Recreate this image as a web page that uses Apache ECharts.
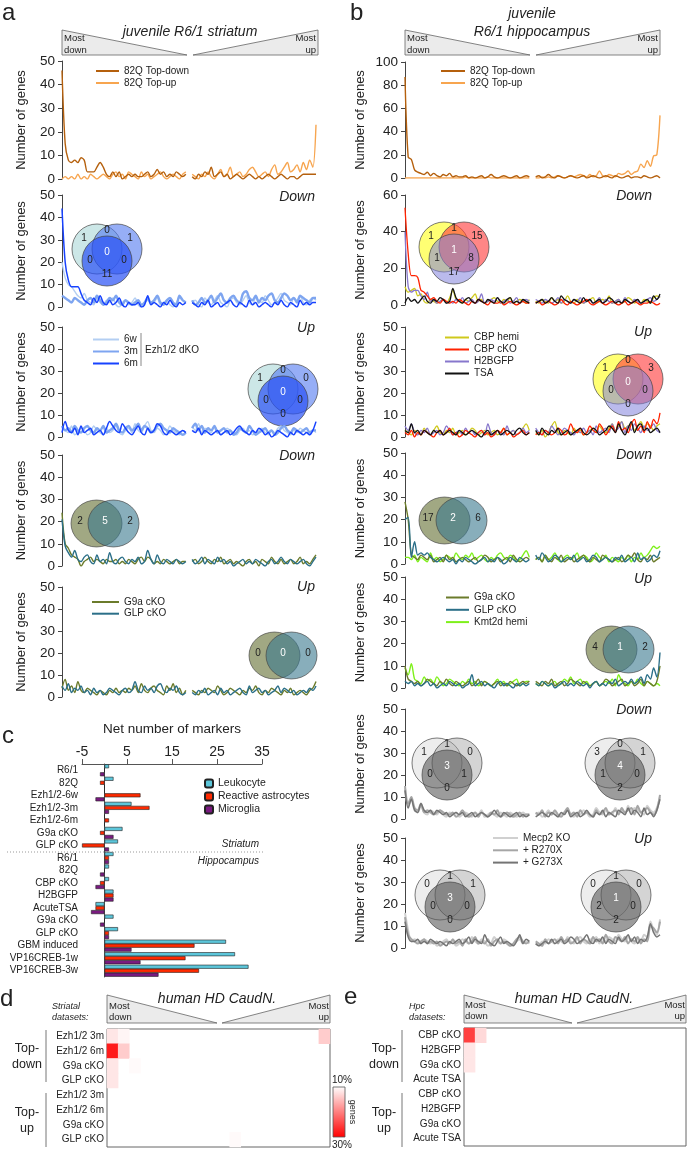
<!DOCTYPE html>
<html><head><meta charset="utf-8">
<script src="https://cdn.jsdelivr.net/npm/echarts@6/dist/echarts.min.js"></script>
<style>html,body{margin:0;padding:0;background:#fff}#c{width:688px;height:1150px}</style>
</head><body><div id="c"></div><script>
const FONT = 'Liberation Sans';
// ---------- x bins (rank bins, left half = most down, right half = most up) ----------
const rankBins = Array.from({length: 81}, (_, i) => String(i));

// ---------- panel a : juvenile R6/1 striatum ----------
const a1DownL = [46,15,8,7,8,7,9,8,3,3, 3,5,7,5,2,1,3,1,3,0, 1,2,1,2,1,1,2,3,1,2, 4,2,3,1,2,1,3,2,1,2];
const a1DownR = [1,0,2,1,3,2,5,1,2,3, 1,2,0,1,2,1,0,1,2,1, 0,1,0,1,2,1,0,1,2,1, 0,1,1,0,1,2,2,2,2,2];
const a1UpL   = [0,1,0,1,0,2,0,1,0,2, 1,0,1,2,1,0,2,3,1,2, 0,3,2,1,0,3,1,2,0,1, 2,3,1,0,1,2,1,0,2,3];
const a1UpR   = [2,1,0,2,1,3,1,0,2,4, 1,2,5,1,2,3,1,2,4,5, 3,1,2,3,1,4,6,2,3,5, 7,3,4,6,3,7,4,8,5,23];

const a2w6L = [20,13,10,9,7,5,4,6,3,2, 1,4,2,1,3,2,4,1,0,2, 3,1,2,4,1,0,2,3,1,2, 4,1,2,3,1,0,2,4,3,2];
const a2m3L = [5,4,3,2,4,3,2,1,3,4, 2,5,3,1,2,4,3,5,2,1, 3,2,1,2,3,1,2,4,2,3, 5,2,1,3,4,2,1,5,3,2];
const a2m6L = [44,20,12,9,9,9,6,3,2,1, 4,2,5,2,1,3,1,2,4,1, 0,2,1,1,2,0,1,5,1,2, 1,0,2,1,3,1,0,2,1,2];
const a2w6R = [2,3,1,0,4,2,1,3,5,2, 1,0,3,4,2,1,3,5,2,1, 4,3,2,5,3,1,2,4,6,3, 2,1,4,3,5,2,1,3,4,3];
const a2m3R = [3,1,2,4,2,3,5,2,4,6, 3,2,4,5,3,2,6,7,4,3, 5,2,4,3,5,6,3,2,4,6, 5,3,4,2,5,4,3,2,4,4];
const a2m6R = [2,1,0,2,1,3,0,1,2,0, 1,2,3,1,0,2,1,0,3,1, 2,0,1,2,1,0,2,1,3,1, 0,2,1,0,3,1,2,1,2,2];

const a3w6L = [4,3,2,5,1,2,4,3,1,2, 5,3,2,1,4,2,3,5,2,1, 3,4,2,6,3,2,5,7,3,2, 4,3,1,2,5,3,2,1,3,2];
const a3m3L = [5,3,4,2,5,3,2,4,5,3, 2,4,3,5,2,3,4,6,3,2, 4,5,3,4,6,3,5,4,2,3, 5,6,4,3,2,4,3,2,1,2];
const a3m6L = [2,7,3,2,4,1,5,2,3,4, 1,2,3,1,4,7,5,3,2,6, 4,2,1,3,5,2,1,4,2,3, 6,5,2,1,3,2,1,2,3,2];
const a3w6R = [5,3,6,2,4,3,2,5,3,1, 2,4,3,2,1,3,4,2,3,1, 2,3,4,2,1,3,2,4,5,3, 2,1,3,2,4,3,2,1,3,2];
const a3m3R = [4,6,3,5,2,4,3,5,2,3, 4,2,3,1,2,4,3,2,5,3, 1,2,3,4,2,3,1,2,4,5, 3,2,4,3,2,3,4,2,3,3];
const a3m6R = [3,2,4,1,3,2,1,2,3,1, 2,3,1,2,4,5,3,2,1,3, 2,4,3,1,2,0,1,3,2,1, 0,2,1,3,2,1,2,1,3,7];

const a4g9aL = [24,10,8,5,4,3,0,2,3,4, 2,3,2,1,3,2,2,3,1,2, 1,3,2,1,3,4,2,4,3,1, 2,1,3,2,1,2,3,1,2,2];
const a4glpL = [21,9,6,4,7,3,2,4,5,2, 1,5,2,3,1,6,2,1,3,4, 2,1,3,2,4,1,2,7,3,1, 5,2,1,3,2,1,3,2,1,2];
const a4g9aR = [2,3,1,2,4,2,1,3,2,4, 1,2,3,1,2,1,0,2,3,1, 2,0,3,2,1,4,2,1,3,1, 2,3,1,2,4,1,2,1,3,5];
const a4glpR = [3,1,2,4,1,3,2,1,4,2, 3,1,2,0,1,2,3,1,2,1, 3,2,1,0,2,3,1,2,4,2, 1,3,2,1,2,3,1,0,2,4];

const a5g9aL = [4,8,3,5,2,7,3,2,4,3, 2,1,3,2,1,3,2,4,2,3, 2,4,3,5,2,6,3,2,4,5, 3,2,1,5,3,6,2,4,1,3];
const a5glpL = [5,3,6,2,4,3,5,2,3,1, 4,2,3,1,2,4,3,2,1,3, 4,2,3,7,3,2,5,3,4,2, 5,6,3,2,4,3,5,2,1,2];
const a5g9aR = [3,2,1,3,2,4,3,2,5,3, 1,2,4,3,2,1,3,2,4,3, 5,2,1,3,2,4,3,2,1,3, 2,4,1,2,3,2,1,3,4,7];
const a5glpR = [2,1,3,2,4,1,2,3,1,4, 2,3,1,2,3,4,2,1,5,2, 3,4,2,3,1,2,3,5,2,4, 3,2,3,1,2,3,2,4,3,5];

// ---------- panel b : juvenile R6/1 hippocampus ----------
const b1DownL = [87,18,16,7,5,4,3,5,2,4, 2,1,3,2,4,1,2,1,1,2, 0,1,0,1,2,0,1,3,1,0, 1,2,1,0,1,2,0,1,2,1];
const b1DownR = [1,2,0,1,3,1,0,2,1,0, 1,2,1,0,1,2,0,1,2,1, 0,1,2,1,0,2,1,0,1,2, 0,1,1,0,2,1,0,1,2,0];
const b1UpL   = [0,0,0,0,0,0,0,0,0,0, 0,0,0,0,0,0,0,0,0,1, 0,0,0,0,0,0,1,0,0,0, 0,0,0,0,0,0,0,0,0,0];
const b1UpR   = [0,0,1,0,1,0,1,2,1,0, 1,2,1,2,3,2,1,3,1,2, 6,2,1,3,2,1,4,3,4,6, 3,5,6,12,9,15,10,19,20,54];

const b2hemiL = [10,7,8,9,5,6,2,1,3,2, 1,2,3,1,4,8,3,2,1,3, 2,4,6,2,3,1,2,3,4,2, 1,3,2,4,1,2,3,2,1,3];
const b2ckoL  = [53,28,16,16,15,8,7,5,3,4, 2,1,3,2,1,2,1,3,2,1, 0,2,1,3,2,1,0,2,1,1, 2,0,1,2,1,0,1,2,1,1];
const b2h2bL  = [40,10,7,8,8,5,3,7,2,3, 1,2,3,1,2,1,3,2,4,1, 2,3,1,2,6,1,2,3,2,4, 1,2,3,1,2,4,1,2,3,2];
const b2tsaL  = [1,4,2,3,1,3,5,2,1,3, 2,4,3,1,2,9,4,2,1,3, 4,2,1,3,2,1,3,2,1,4, 2,1,3,4,1,2,1,3,2,1];
const b2hemiR = [2,1,3,2,1,4,2,3,1,2, 5,2,1,3,2,1,2,3,4,1, 2,3,2,5,1,2,3,1,2,4, 3,1,2,1,3,2,1,4,5,4];
const b2ckoR  = [1,2,0,1,2,1,0,1,3,1, 0,2,1,0,1,2,3,1,0,1, 2,1,0,1,2,1,0,1,2,0, 1,2,1,0,1,1,2,1,0,1];
const b2h2bR  = [3,2,1,3,2,1,2,4,1,3, 2,1,3,2,4,1,2,3,1,2, 4,1,3,2,1,2,3,1,4,2, 1,3,2,1,2,3,4,2,3,5];
const b2tsaR  = [1,2,3,1,2,4,2,1,5,3, 2,1,3,2,1,4,2,3,1,2, 3,1,2,4,3,1,2,1,3,2, 1,2,3,1,2,3,1,5,3,6];

const b3hemiL = [3,2,1,3,2,1,4,2,1,3, 5,2,1,3,2,4,1,2,3,1, 2,4,3,1,2,3,1,2,3,1, 2,4,1,2,3,1,2,4,6,3];
const b3ckoL  = [2,1,3,0,2,1,3,2,1,0, 2,3,1,2,4,1,2,0,1,3, 2,1,0,2,3,1,2,0,1,3, 2,4,1,2,0,1,2,3,1,2];
const b3h2bL  = [5,3,6,2,1,3,2,4,1,2, 3,1,2,5,3,1,2,3,1,4, 2,3,1,2,3,1,6,2,1,3, 2,1,5,2,3,1,2,4,2,3];
const b3tsaL  = [3,2,6,2,3,1,3,2,1,3, 2,3,1,2,3,2,1,3,2,1, 2,3,2,1,0,2,3,1,2,3, 1,2,3,2,1,3,4,2,1,2];
const b3hemiR = [2,1,3,0,2,5,7,2,1,3, 2,1,4,2,3,1,2,3,4,2, 5,3,2,4,6,3,5,7,4,5, 6,3,5,7,4,6,5,3,5,6];
const b3ckoR  = [1,2,1,3,2,1,2,4,3,1, 2,6,3,2,4,1,2,5,3,2, 6,4,1,3,5,2,7,3,4,2, 6,8,3,5,2,7,4,8,6,11];
const b3h2bR  = [4,2,1,3,2,5,3,1,2,4, 3,2,1,3,2,4,2,3,1,5, 2,3,4,2,6,3,4,7,2,5, 3,6,4,2,5,3,4,6,3,2];
const b3tsaR  = [3,1,4,2,1,3,2,4,1,2, 3,1,2,3,4,2,1,2,4,3, 1,2,3,5,4,2,6,3,1,4, 7,2,5,6,3,4,2,3,4,2];

const b4g9aL = [28,20,4,3,2,4,3,2,4,1, 2,3,1,4,2,3,1,2,3,2, 1,2,3,1,2,4,3,1,2,3, 1,2,3,1,4,2,1,2,3,2];
const b4glpL = [20,21,3,10,4,5,4,5,3,2, 1,2,3,2,1,2,0,2,1,3, 2,1,0,1,2,3,1,2,1,3, 2,0,1,3,2,1,3,2,1,2];
const b4kmtL = [3,3,2,4,1,3,2,1,5,2, 3,1,2,4,3,2,5,3,2,4, 3,5,2,3,4,2,1,3,2,4, 5,3,2,4,3,1,2,4,6,3];
const b4g9aR = [2,3,1,4,2,1,3,2,4,1, 2,3,1,2,3,4,2,1,3,2, 1,4,3,2,1,2,3,1,2,4, 3,5,2,1,3,2,4,1,2,3];
const b4glpR = [4,2,5,3,1,2,4,3,1,2, 3,2,4,1,2,3,1,2,4,3, 1,2,3,2,1,3,2,4,1,2, 3,1,5,2,3,1,2,4,3,6];
const b4kmtR = [2,3,1,4,2,3,5,2,1,3, 4,2,3,5,2,4,3,1,2,5, 3,2,4,1,3,2,1,3,2,4, 1,3,2,5,3,4,6,8,7,8];

const b5g9aL = [10,4,3,2,3,1,2,4,3,2, 1,3,2,4,2,1,3,2,1,2, 3,1,2,4,1,3,2,1,2,3, 1,2,1,3,2,1,2,3,2,3];
const b5glpL = [3,2,3,1,2,1,2,3,1,2, 0,1,2,1,3,2,1,2,0,1, 2,6,1,2,3,1,2,1,0,2, 3,1,2,1,0,2,1,2,1,2];
const b5kmtL = [9,6,11,4,3,2,5,3,4,2, 5,3,1,2,4,3,2,1,3,2, 4,2,3,1,2,3,2,1,2,4, 2,3,1,2,3,4,1,2,3,3];
const b5g9aR = [3,2,1,3,2,4,1,2,3,1, 2,4,3,2,1,3,2,1,2,3, 1,2,4,3,1,2,3,4,1,2, 3,1,2,4,1,3,2,1,3,10];
const b5glpR = [2,1,3,2,1,2,0,1,2,3, 1,2,1,3,2,1,2,0,2,3, 1,2,1,3,2,4,1,2,3,2, 4,2,3,5,2,6,4,9,5,16];
const b5kmtR = [2,1,3,2,1,2,3,1,2,4, 3,5,2,3,4,2,3,1,2,3, 1,2,3,2,4,1,6,3,2,1, 3,2,4,2,1,3,2,1,2,1];

const b6koL  = [14,6,9,4,3,6,3,2,4,3, 2,4,2,1,3,2,3,1,2,3, 2,1,3,2,4,1,2,3,2,1, 3,2,1,3,2,1,2,3,2,2];
const b6r270L= [15,7,10,5,4,7,3,4,3,2, 3,4,3,2,2,3,1,2,4,2, 1,2,3,1,3,2,1,3,2,4, 1,2,3,2,1,2,3,1,2,2];
const b6g273L= [13,5,9,4,3,7,4,3,4,2, 4,3,2,3,1,2,3,2,3,1, 2,3,1,2,3,2,1,2,4,2, 1,3,2,1,2,3,1,2,1,2];
const b6koR  = [2,3,1,2,4,2,3,1,2,3, 4,2,1,3,2,4,3,1,2,5, 3,2,4,3,2,5,3,4,2,6, 3,5,4,3,2,6,4,3,5,10];
const b6r270R= [3,2,4,1,3,2,4,2,1,3, 5,2,3,1,4,2,3,2,1,4, 2,3,5,2,3,4,2,5,3,4, 5,2,6,3,4,5,3,2,4,11];
const b6g273R= [1,2,3,2,1,3,2,1,3,2, 4,1,2,3,1,2,4,2,1,3, 2,4,1,3,2,1,4,3,2,5, 2,4,3,1,5,2,3,1,4,9];

const b7koL  = [16,8,3,4,3,2,4,3,2,3, 1,2,3,4,2,3,1,2,4,3, 2,5,3,2,4,3,1,2,5,3, 2,4,3,1,2,3,4,2,3,2];
const b7r270L= [14,6,4,3,2,3,4,2,3,2, 3,1,2,3,2,4,2,3,1,4, 2,3,5,2,3,2,4,1,3,4, 2,3,2,1,2,4,5,3,2,3];
const b7g273L= [12,5,3,3,4,2,3,2,4,3, 2,3,2,1,3,2,3,4,2,3, 5,2,4,3,2,6,3,2,1,3, 5,2,3,2,1,3,6,2,4,3];
const b7koR  = [2,1,3,2,4,3,2,4,3,2, 5,3,2,4,5,3,2,4,3,5, 2,4,3,5,4,3,6,4,3,5, 3,2,4,3,6,5,12,8,6,13];
const b7r270R= [3,2,1,4,2,3,4,2,5,3, 4,2,3,5,2,4,3,2,5,3, 4,2,6,3,2,5,4,3,5,2, 4,3,5,2,4,3,10,9,7,12];
const b7g273R= [2,1,2,3,2,4,2,3,4,2, 3,5,4,2,3,4,6,3,2,4, 3,5,2,4,3,2,5,3,4,6, 3,5,2,4,3,5,11,7,5,6];

// ---------- panel c : net number of markers ----------
const cLabels = ['R6/1','82Q','Ezh1/2-6w','Ezh1/2-3m','Ezh1/2-6m','G9a cKO','GLP cKO','R6/1','82Q','CBP cKO','H2BGFP','AcuteTSA','G9a cKO','GLP cKO','GBM induced','VP16CREB-1w','VP16CREB-3w'];
const cLeukocyte = [1,2,0,6,0,4,3, 2,1,1,2,-2,2,3,27,29,32];
const cReactive  = [0,-1,8,10,1,-1,-5, 1,0,-1,2,-2,0,1,20,18,21];
const cMicroglia = [-1,0,-2,1,0,2,1, 1,-1,-2,2,-3,-1,1,6,8,12];
const cTicks = [-5,5,15,25,35];

// ---------- panels d, e : human HD caudate overlap heatmaps ----------
const hmCols = Array.from({length: 20}, (_, i) => String(i));
const dRows = ['Ezh1/2 3m','Ezh1/2 6m','G9a cKO','GLP cKO','Ezh1/2 3m','Ezh1/2 6m','G9a cKO','GLP cKO'];
const eRows = ['CBP cKO','H2BGFP','G9a cKO','Acute TSA','CBP cKO','H2BGFP','G9a cKO','Acute TSA'];
// [column, row, % genes]
const dCells = [[0,0,12],[1,0,10.8],[19,0,14],[0,1,28],[1,1,14],[0,2,12],[2,2,10.4],[0,3,12],[11,7,10.4]];
const eCells = [[0,0,25],[1,0,13],[0,1,12],[0,2,12]];

// ---------- venn counts [A, AB, B, ABC, AC, BC, C] / [A, AB, B] ----------
const vennA2 = [1,0,1,0,0,0,11], vennA3 = [1,0,0,0,0,0,0];
const vennA4 = [2,5,2], vennA5 = [0,0,0];
const vennB2 = [1,1,15,1,1,8,17], vennB3 = [1,0,3,0,0,0,0];
const vennB4 = [17,2,6], vennB5 = [4,1,2];
const vennB6L = [1,1,0,3,0,1,0], vennB6R = [3,0,1,4,1,0,2];
const vennB7L = [0,1,1,3,0,0,0], vennB7R = [0,1,0,1,2,0,2];

// =========================================================
const C = {
  td:'#b5600d', tu:'#f7a54f', w6:'#b3cef2', m3:'#7ea5f0', m6:'#1742ff',
  g9a:'#6b7b2b', glp:'#2b6f88', hemi:'#cfc91c', cko:'#ff2200', h2b:'#8777cc', tsa:'#111111',
  kmt:'#7ef01a', ko:'#d0d0d0', r270:'#a6a6a6', g273:'#747474'
};
const grids = [], xAxes = [], yAxes = [], series = [], graphics = [], legends = [];
const join = (L, R) => L.concat([null], R);

function linePlot(left, width, top, h, max, interval, gap, list) {
  const gi = grids.length;
  grids.push({left, top, width, height: h, containLabel: false, outerBoundsMode: 'none'});
  xAxes.push({type:'category', gridIndex: gi, data: rankBins, boundaryGap: false, show: false});
  yAxes.push({type:'value', gridIndex: gi, min: 0, max, interval,
    name: 'Number of genes', nameLocation: 'middle', nameGap: gap,
    nameTextStyle: {fontSize: 13, color: '#222', fontFamily: FONT},
    axisLine: {show: true, lineStyle: {color: '#444', width: 1}},
    axisTick: {show: true, length: 4, lineStyle: {color: '#444'}},
    axisLabel: {fontSize: 13.5, color: '#222', margin: 7, fontFamily: FONT},
    splitLine: {show: false}});
  list.forEach(s => series.push({type: 'line', name: s[0], xAxisIndex: gi, yAxisIndex: gi,
    data: join(s[1], s[2]), symbol: 'none', smooth: 0.3, connectNulls: false,
    lineStyle: {color: s[3], width: s[4]}, itemStyle: {color: s[3]}, z: 3}));
}
const LA = 62, WA = 254, LB = 405, WB = 255;
linePlot(LA, WA, 61, 118, 50, 10, 34, [['82Q Top-up', a1UpL, a1UpR, C.tu, 1.4], ['82Q Top-down', a1DownL, a1DownR, C.td, 1.4]]);
linePlot(LA, WA, 195, 112, 50, 10, 34, [['6w', a2w6L, a2w6R, C.w6, 1.4], ['3m', a2m3L, a2m3R, C.m3, 2.4], ['6m', a2m6L, a2m6R, C.m6, 1.5]]);
linePlot(LA, WA, 327, 110, 50, 10, 34, [['6w', a3w6L, a3w6R, C.w6, 1.4], ['3m', a3m3L, a3m3R, C.m3, 2.4], ['6m', a3m6L, a3m6R, C.m6, 1.5]]);
linePlot(LA, WA, 455, 111, 50, 10, 34, [['G9a cKO', a4g9aL, a4g9aR, C.g9a, 1.4], ['GLP cKO', a4glpL, a4glpR, C.glp, 1.4]]);
linePlot(LA, WA, 587, 110, 50, 10, 34, [['G9a cKO', a5g9aL, a5g9aR, C.g9a, 1.4], ['GLP cKO', a5glpL, a5glpR, C.glp, 1.4]]);

linePlot(LB, WB, 62, 116, 100, 20, 38, [['82Q Top-up', b1UpL, b1UpR, C.tu, 1.4], ['82Q Top-down', b1DownL, b1DownR, C.td, 1.4]]);
linePlot(LB, WB, 195, 110, 60, 20, 38, [['CBP hemi', b2hemiL, b2hemiR, C.hemi, 1.3], ['H2BGFP', b2h2bL, b2h2bR, C.h2b, 1.3], ['CBP cKO', b2ckoL, b2ckoR, C.cko, 1.3], ['TSA', b2tsaL, b2tsaR, C.tsa, 1.3]]);
linePlot(LB, WB, 327, 110, 50, 10, 38, [['CBP hemi', b3hemiL, b3hemiR, C.hemi, 1.3], ['H2BGFP', b3h2bL, b3h2bR, C.h2b, 1.3], ['CBP cKO', b3ckoL, b3ckoR, C.cko, 1.3], ['TSA', b3tsaL, b3tsaR, C.tsa, 1.3]]);
linePlot(LB, WB, 453, 111, 50, 10, 38, [['Kmt2d hemi', b4kmtL, b4kmtR, C.kmt, 1.4], ['G9a cKO', b4g9aL, b4g9aR, C.g9a, 1.4], ['GLP cKO', b4glpL, b4glpR, C.glp, 1.4]]);
linePlot(LB, WB, 577, 111, 50, 10, 38, [['Kmt2d hemi', b5kmtL, b5kmtR, C.kmt, 1.4], ['G9a cKO', b5g9aL, b5g9aR, C.g9a, 1.4], ['GLP cKO', b5glpL, b5glpR, C.glp, 1.4]]);
linePlot(LB, WB, 709, 110, 50, 10, 38, [['Mecp2 KO', b6koL, b6koR, C.ko, 2], ['+ R270X', b6r270L, b6r270R, C.r270, 2], ['+ G273X', b6g273L, b6g273R, C.g273, 1.5]]);
linePlot(LB, WB, 838, 110, 50, 10, 38, [['Mecp2 KO', b7koL, b7koR, C.ko, 2], ['+ R270X', b7r270L, b7r270R, C.r270, 2], ['+ G273X', b7g273L, b7g273R, C.g273, 1.5]]);

// ---- panel c bars ----
{
  const gi = grids.length;
  grids.push({left: 82, top: 764, width: 180, height: 213, containLabel: false, outerBoundsMode: 'none'});
  xAxes.push({type: 'value', gridIndex: gi, position: 'top', min: cTicks[0], max: cTicks[cTicks.length-1], interval: 10,
    name: 'Net number of markers', nameLocation: 'middle', nameGap: 28,
    nameTextStyle: {fontSize: 13.5, color: '#222', fontFamily: FONT},
    axisLine: {show: true, lineStyle: {color: '#555'}}, axisTick: {show: true, length: 5, lineStyle: {color: '#555'}},
    axisLabel: {fontSize: 14, color: '#222', margin: 5, fontFamily: FONT}, splitLine: {show: false}});
  yAxes.push({type: 'category', gridIndex: gi, inverse: true, data: cLabels.map((_, i) => String(i)),
    axisLine: {show: true, onZero: true, lineStyle: {color: '#555'}}, axisTick: {show: false},
    axisLabel: {interval: 0, formatter: (v, i) => cLabels[i], fontSize: 10, color: '#222', margin: 4, fontFamily: FONT}});
  [['Leukocyte', cLeukocyte, '#5cc6da'], ['Reactive astrocytes', cReactive, '#ff2a00'], ['Microglia', cMicroglia, '#7a1a80']].forEach(s =>
    series.push({type: 'bar', name: s[0], xAxisIndex: gi, yAxisIndex: gi, data: s[1], barWidth: 4, barGap: '0%',
      itemStyle: {color: s[2], borderColor: '#222', borderWidth: 0.6}}));
}
// ---- heatmaps d, e ----
const hmIdx = [];
function heat(left, top, width, height, rows, cells) {
  const gi = grids.length;
  grids.push({left, top, width, height, show: true, borderColor: '#666', borderWidth: 1, backgroundColor: 'transparent', containLabel: false, outerBoundsMode: 'none'});
  xAxes.push({type: 'category', gridIndex: gi, data: hmCols, show: false});
  yAxes.push({type: 'category', gridIndex: gi, inverse: true, data: rows.map((_, i) => String(i)),
    axisLine: {show: false}, axisTick: {show: false},
    axisLabel: {interval: 0, formatter: (v, i) => rows[i], fontSize: 10, color: '#222', margin: 3, fontFamily: FONT}});
  hmIdx.push(series.length);
  series.push({type: 'heatmap', xAxisIndex: gi, yAxisIndex: gi, data: cells, itemStyle: {borderWidth: 0}, emphasis: {disabled: true}});
}
heat(107, 1029, 223, 118, dRows, dCells);
heat(464, 1028, 222, 118, eRows, eCells);

// ---- legends ----
const lg = (left, top, data, iw, ih, gap, extra) => Object.assign({left, top, orient: 'vertical', padding: 0, itemWidth: iw, itemHeight: ih, itemGap: gap,
  selectedMode: false, data, itemStyle: {opacity: 0}, textStyle: {fontSize: 10, color: '#222', fontFamily: FONT}}, extra || {});
legends.push(lg(95, 66, ['82Q Top-down', '82Q Top-up'], 23, 10, 2));
legends.push(lg(440, 66, ['82Q Top-down', '82Q Top-up'], 24, 10, 2));
legends.push(lg(92, 334.5, ['6w', '3m', '6m'], 26, 9, 2));
legends.push(lg(91, 597, ['G9a cKO', 'GLP cKO'], 27, 10, 1.7));
legends.push(lg(444, 332.5, ['CBP hemi', 'CBP cKO', 'H2BGFP', 'TSA'], 24, 9, 2));
legends.push(lg(445, 592.5, ['G9a cKO', 'GLP cKO', 'Kmt2d hemi'], 23, 9, 2.3));
legends.push(lg(492, 833, ['Mecp2 KO', '+ R270X', '+ G273X'], 25, 9, 2.3));
legends.push(lg(204, 778, ['Leukocyte', 'Reactive astrocytes', 'Microglia'], 8, 8, 2, {itemStyle: {}, textStyle: {fontSize: 10.5, color: '#222', fontFamily: FONT}}));

// ---- graphics ----
function T(x, y, text, o) {
  o = o || {};
  return {type: 'text', x, y, rotation: o.rot || 0, silent: true, z: 10,
    style: {text, fill: o.fill || '#222', fontSize: o.size || 10, fontFamily: FONT, fontStyle: o.it ? 'italic' : 'normal',
      textAlign: o.align || 'left', textVerticalAlign: o.va || 'middle', align: o.align || 'left', verticalAlign: o.va || 'middle'}};
}
const P = (pts) => ({type: 'polygon', silent: true, z: 5, shape: {points: pts}, style: {fill: '#ebebeb', stroke: '#666', lineWidth: 0.8}});
const Ln = (x1, y1, x2, y2, st) => ({type: 'line', silent: true, z: 5, shape: {x1, y1, x2, y2}, style: Object.assign({stroke: '#666', lineWidth: 1}, st || {})});

// panel letters
graphics.push(T(2, 25, 'a', {size: 24, va: 'bottom'}), T(350, 25, 'b', {size: 24, va: 'bottom'}),
  T(2, 748, 'c', {size: 24, va: 'bottom'}), T(0, 1011, 'd', {size: 24, va: 'bottom'}), T(344, 1009, 'e', {size: 24, va: 'bottom'}));
// rank triangles + titles
function header(x0, xm1, xm2, x1, yT, yB, ml, mr, yM, yD) {
  graphics.push(P([[x0, yT], [x0, yB], [xm1, yB]]), P([[xm2, yB], [x1, yT], [x1, yB]]));
  graphics.push(T(ml, yM, 'Most', {size: 9.5}), T(ml, yD, 'down', {size: 9.5}),
    T(mr, yM, 'Most', {size: 9.5, align: 'right'}), T(mr, yD, 'up', {size: 9.5, align: 'right'}));
}
header(62, 187, 193, 318, 30, 55, 64, 316, 38, 50);
header(405, 530, 536, 660, 30, 55, 407, 658, 38, 50);
header(107, 217, 222, 330, 995, 1023, 109, 329, 1006, 1017);
header(464, 572, 577, 686, 995, 1023, 465, 685, 1005, 1016);
graphics.push(T(190, 32, 'juvenile R6/1 striatum', {size: 14, it: true, align: 'center'}));
graphics.push(T(532, 14, 'juvenile', {size: 14, it: true, align: 'center'}), T(532, 32, 'R6/1 hippocampus', {size: 14, it: true, align: 'center'}));
graphics.push(T(217, 999, 'human HD CaudN.', {size: 14, it: true, align: 'center'}), T(574, 999, 'human HD CaudN.', {size: 14, it: true, align: 'center'}));
// Down / Up tags
[[315, 197, 'Down'], [315, 328, 'Up'], [315, 456, 'Down'], [315, 587, 'Up'],
 [652, 196, 'Down'], [652, 332, 'Up'], [652, 455, 'Down'], [652, 579, 'Up'], [652, 710, 'Down'], [652, 839, 'Up']]
  .forEach(d => graphics.push(T(d[0], d[1], d[2], {size: 14, it: true, align: 'right'})));
// Ezh bracket
graphics.push(Ln(141, 333, 141, 366, {stroke: '#888'}), T(145, 350, 'Ezh1/2 dKO', {size: 10}));

// venn diagrams
function venn3(cx, cy, cols, labs) {
  const r = 25, cp = [[-10, -3], [10, -3], [0, 9]];
  cp.forEach((p, i) => graphics.push({type: 'circle', silent: true, z: 1, shape: {cx: cx + p[0], cy: cy + p[1], r},
    style: {fill: cols[i], stroke: '#444', lineWidth: 0.7}}));
  const lp = [[-23, -14], [0, -22], [23, -14], [0, 0], [-17, 8], [17, 8], [0, 22]];
  labs.forEach((v, i) => graphics.push(T(cx + lp[i][0], cy + lp[i][1], String(v), {size: 10, align: 'center', fill: i === 3 ? '#fff' : '#222'})));
}
function venn2(cx, cy, cols, labs) {
  [[-8.5, 2.5], [8.5, 2.5]].forEach((p, i) => graphics.push({type: 'circle', silent: true, z: 1, x: cx + p[0], y: cy + p[1], scaleY: 0.92,
    shape: {cx: 0, cy: 0, r: 25.5}, style: {fill: cols[i], stroke: '#444', lineWidth: 0.7}}));
  [-25, 0, 25].forEach((dx, i) => graphics.push(T(cx + dx, cy, String(labs[i]), {size: 10, align: 'center', fill: i === 1 ? '#fff' : '#222'})));
}
const blueV = ['rgba(170,215,215,0.6)', 'rgba(80,120,240,0.6)', 'rgba(40,80,245,0.7)'];
const cbpV = ['rgba(255,255,40,0.65)', 'rgba(255,60,60,0.62)', 'rgba(130,130,220,0.55)'];
const greyV = ['rgba(215,215,215,0.45)', 'rgba(160,160,160,0.45)', 'rgba(90,90,90,0.6)'];
const g2V = ['rgba(110,122,64,0.65)', 'rgba(57,120,142,0.6)'];
venn3(107, 252, blueV, vennA2);
venn3(283, 392, blueV, vennA3);
venn2(105, 521, g2V, vennA4);
venn2(283, 653, g2V, vennA5);
venn3(454, 250, cbpV, vennB2);
venn3(628, 382, cbpV, vennB3);
venn2(453, 518, g2V, vennB4);
venn2(620, 647, g2V, vennB5);
venn3(447, 766, greyV, vennB6L); venn3(620, 766, greyV, vennB6R);
venn3(450, 898, greyV, vennB7L); venn3(616, 898, greyV, vennB7R);

// panel c annotations
graphics.push(Ln(7, 852, 263, 852, {stroke: '#999', lineDash: [1, 2]}),
  T(259, 844, 'Striatum', {size: 10, it: true, align: 'right'}), T(259, 861, 'Hippocampus', {size: 10, it: true, align: 'right'}));
// panel d / e side labels
graphics.push(T(52, 1006, 'Striatal', {size: 9, it: true}), T(52, 1017, 'datasets:', {size: 9, it: true}),
  T(409, 1006, 'Hpc', {size: 9, it: true}), T(409, 1017, 'datasets:', {size: 9, it: true}));
[[27, 46], [384, 402]].forEach(p => {
  graphics.push(T(p[0], 1049, 'Top-', {size: 12.5, align: 'center'}), T(p[0], 1065, 'down', {size: 12.5, align: 'center'}),
    T(p[0], 1113, 'Top-', {size: 12.5, align: 'center'}), T(p[0], 1129, 'up', {size: 12.5, align: 'center'}),
    Ln(p[1], 1030, p[1], 1082, {stroke: '#777'}), Ln(p[1], 1093, p[1], 1147, {stroke: '#777'}));
});
// colour bar
graphics.push({type: 'rect', silent: true, z: 5, shape: {x: 333, y: 1087, width: 12, height: 50},
  style: {fill: new echarts.graphic.LinearGradient(0, 0, 0, 1, [{offset: 0, color: '#ffffff'}, {offset: 1, color: '#ff0000'}]), stroke: '#555', lineWidth: 0.8}});
graphics.push(T(332, 1080, '10%', {size: 10}), T(332, 1145, '30%', {size: 10}), T(352, 1112, 'genes', {size: 9, align: 'center', rot: -Math.PI / 2}));

const chart = echarts.init(document.getElementById('c'), null, {renderer: 'canvas'});
chart.setOption({
  animation: false,
  backgroundColor: '#fff',
  textStyle: {fontFamily: FONT},
  grid: grids, xAxis: xAxes, yAxis: yAxes, series, legend: legends,
  visualMap: [{type: 'continuous', show: false, min: 10, max: 30, dimension: 2, seriesIndex: hmIdx,
    inRange: {color: ['#ffffff', '#ff0000']}, outOfRange: {color: '#ffffff'}}],
  graphic: {elements: graphics}
});
</script></body></html>
